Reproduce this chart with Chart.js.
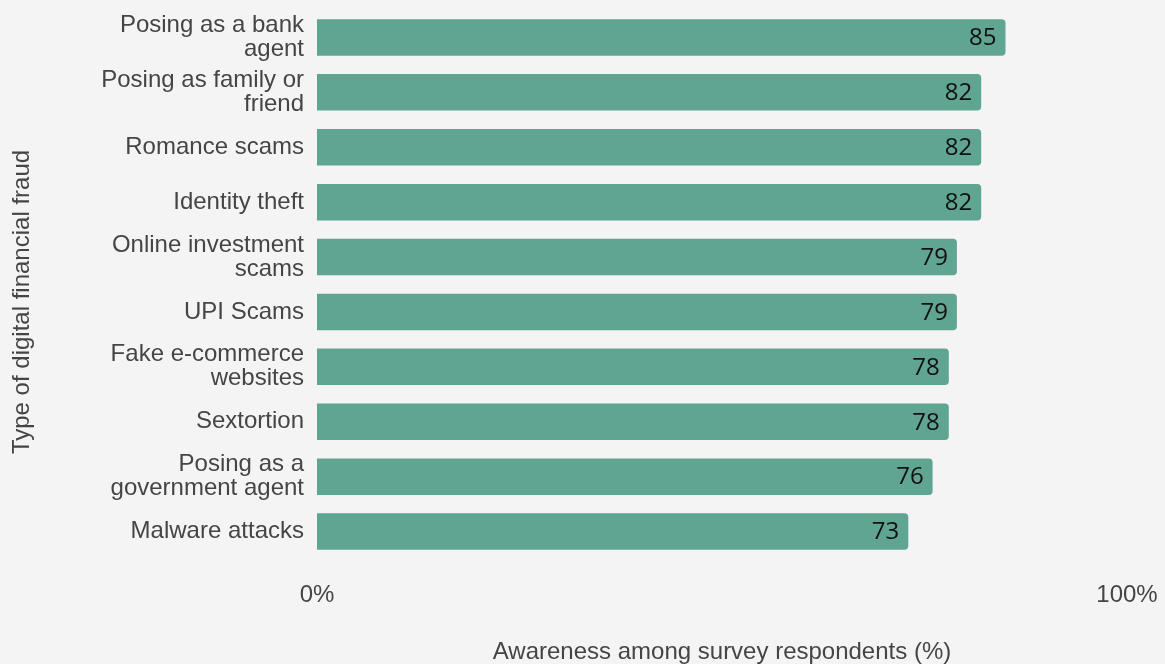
<!DOCTYPE html>
<html>
<head>
<meta charset="utf-8">
<script src="https://cdn.jsdelivr.net/npm/chart.js@4.4.0/dist/chart.umd.min.js"></script>
<style>
  html, body { margin: 0; padding: 0; background: #f4f4f4; overflow: hidden; }
  #wrap { width: 1165px; height: 664px; }
</style>
</head>
<body>
<div id="wrap"><canvas id="c" width="1165" height="664"></canvas></div>
<script>
// Fraud types (wrapped into lines) and awareness share in percent
const fraudTypes = [
  ["Posing as a bank", "agent"],
  ["Posing as family or", "friend"],
  "Romance scams",
  "Identity theft",
  ["Online investment", "scams"],
  "UPI Scams",
  ["Fake e-commerce", "websites"],
  "Sextortion",
  ["Posing as a", "government agent"],
  "Malware attacks"
];
const awareness = [85, 82, 82, 82, 79, 79, 78, 78, 76, 73];
const xTickValues = [0, 100];
const xTitle = "Awareness among survey respondents (%)";
const yTitle = "Type of digital financial fraud";

const SANS = "'Liberation Sans', Arial, sans-serif";
const TEXT = '#454545';

// Value printed inside the end of each bar
const barValues = {
  id: 'barValues',
  afterDatasetsDraw(chart) {
    const ctx = chart.ctx;
    const meta = chart.getDatasetMeta(0);
    ctx.save();
    ctx.font = "24px 'Open Sans', 'Noto Sans', sans-serif";
    ctx.fillStyle = '#111';
    ctx.textAlign = 'right';
    ctx.textBaseline = 'middle';
    meta.data.forEach((bar, i) => {
      ctx.fillText(String(chart.data.datasets[0].data[i]), bar.x - 9, bar.y + 1);
    });
    ctx.restore();
  }
};

// Axis titles
const axisTitles = {
  id: 'axisTitles',
  afterDraw(chart) {
    const ctx = chart.ctx;
    const area = chart.chartArea;
    ctx.save();
    ctx.font = '24px ' + SANS;
    ctx.fillStyle = TEXT;
    ctx.textAlign = 'center';
    ctx.textBaseline = 'middle';
    ctx.fillText(xTitle, (area.left + area.right) / 2, 652);
    ctx.translate(22, 302);
    ctx.rotate(-Math.PI / 2);
    ctx.fillText(yTitle, 0, 0);
    ctx.restore();
  }
};

new Chart(document.getElementById('c'), {
  type: 'bar',
  data: {
    labels: fraudTypes,
    datasets: [{
      data: awareness,
      backgroundColor: '#5fa591',
      borderRadius: 4,
      borderSkipped: 'start',
      categoryPercentage: 1,
      barPercentage: 0.665
    }]
  },
  options: {
    indexAxis: 'y',
    responsive: false,
    animation: false,
    devicePixelRatio: 1,
    layout: { padding: { top: 10, right: 38, left: 0, bottom: 0 } },
    plugins: {
      legend: { display: false },
      tooltip: { enabled: false }
    },
    scales: {
      x: {
        min: 0,
        max: 100,
        afterBuildTicks(scale) {
          scale.ticks = xTickValues.map(v => ({ value: v }));
        },
        afterFit(scale) {
          scale.height = 105;
          scale.paddingLeft = 0;
          scale.paddingRight = 0;
        },
        grid: { display: false, drawTicks: false },
        border: { display: false },
        ticks: {
          padding: 22,
          color: TEXT,
          font: { family: SANS, size: 24 },
          maxRotation: 0,
          callback: v => v + '%'
        }
      },
      y: {
        afterFit(scale) {
          scale.width = 317;
          scale.paddingTop = 0;
          scale.paddingBottom = 0;
        },
        grid: { display: false, drawTicks: false },
        border: { display: false },
        ticks: {
          padding: 13,
          color: TEXT,
          autoSkip: false,
          font: { family: SANS, size: 24, lineHeight: 1.0 }
        }
      }
    }
  },
  plugins: [barValues, axisTitles]
});
</script>
</body>
</html>
